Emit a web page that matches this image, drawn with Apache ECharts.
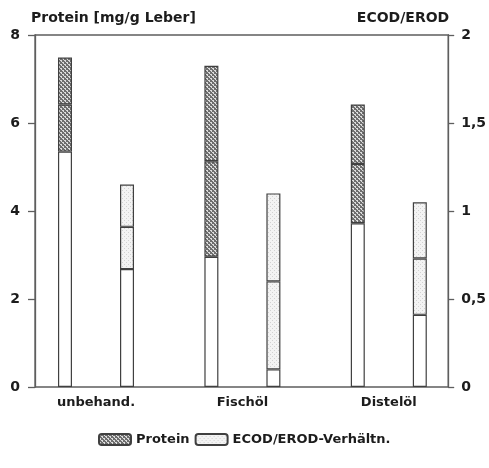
<!DOCTYPE html>
<html>
<head>
<meta charset="utf-8">
<script src="https://cdn.jsdelivr.net/npm/echarts@6/dist/echarts.min.js"></script>
<style>
  html, body { margin: 0; padding: 0; background: #fff; }
  #chart { width: 489px; height: 468px; }
</style>
</head>
<body>
<div id="chart"></div>
<script>
// Treatment groups
var categories = ['unbehand.', 'Fischöl', 'Distelöl'];
// Protein content (mg/g liver): mean and standard deviation
var proteinMean = [6.42, 5.13, 5.07];
var proteinSD = [1.07, 2.17, 1.35];
// ECOD/EROD ratio: mean and standard deviation
var ratioMean = [0.91, 0.60, 0.73];
var ratioSD = [0.24, 0.50, 0.32];
// Axis ticks
var leftTicks = [0, 2, 4, 6, 8];
var rightTicks = [0, 0.5, 1, 1.5, 2];

var FONT = 'DejaVu Sans';
var TEXT = '#1c1c1c';
var LINE = '#5e5e5e';

function makePattern(bg, dot, size, dots) {
  var c = document.createElement('canvas');
  c.width = size; c.height = size;
  var g = c.getContext('2d');
  g.fillStyle = bg; g.fillRect(0, 0, size, size);
  g.fillStyle = dot;
  dots.forEach(function (p) { g.fillRect(p[0], p[1], 1, 1); });
  return { image: c, repeat: 'repeat' };
}
var proteinFill = makePattern('#6e6e6e', '#dcdcdc', 4, [[0, 0], [1, 0], [2, 2], [3, 2], [1, 1], [3, 3]]);
var ratioFill = makePattern('#f3f3f3', '#d2d2d2', 4, [[0, 0], [2, 2]]);

// lower edge of the spread band = mean - SD
var proteinBase = proteinMean.map(function (m, i) { return m - proteinSD[i]; });
var ratioBase = ratioMean.map(function (m, i) { return m - ratioSD[i]; });

var barStyle = { borderColor: '#404040', borderWidth: 1.2 };

function seg(name, stack, yIdx, data, fill) {
  return {
    name: name, type: 'bar', stack: stack, xAxisIndex: 1, yAxisIndex: yIdx,
    data: data, barWidth: 14, barGap: '343%', silent: true,
    itemStyle: Object.assign({ color: fill }, barStyle)
  };
}

var chart = echarts.init(document.getElementById('chart'), null, { renderer: 'canvas' });
chart.setOption({
  animation: false,
  backgroundColor: '#fff',
  textStyle: { fontFamily: FONT },
  grid: [
    { left: 35, right: 39, top: 35, bottom: 81, show: true, borderColor: LINE, borderWidth: 1.3 },
    { left: 22.8, right: 27, top: 35, bottom: 81 }
  ],
  legend: {
    data: ['Protein', 'ECOD/EROD-Verhältn.'],
    left: 98, top: 433, padding: 0,
    itemWidth: 32, itemHeight: 11, itemGap: 5,
    selectedMode: false,
    textStyle: { fontFamily: FONT, fontWeight: 'bold', fontSize: 13, color: TEXT }
  },
  xAxis: [
    { gridIndex: 0, type: 'category', data: categories, show: false },
    {
      gridIndex: 1, type: 'category', data: categories,
      axisLine: { show: false }, axisTick: { show: false },
      axisLabel: { margin: 9, fontFamily: FONT, fontWeight: 'bold', fontSize: 13, color: TEXT }
    }
  ],
  yAxis: [
    {
      gridIndex: 0, type: 'value', position: 'left', min: leftTicks[0], max: leftTicks[leftTicks.length - 1], interval: 2,
      name: 'Protein [mg/g Leber]', nameLocation: 'end', nameGap: 10,
      nameTextStyle: { fontFamily: FONT, fontWeight: 'bold', fontSize: 14, color: TEXT, align: 'left', padding: [0, 0, 0, -4] },
      axisLine: { show: true, lineStyle: { color: LINE, width: 1.3 } },
      axisTick: { show: true, length: 7, lineStyle: { color: LINE, width: 1.3 } },
      axisLabel: { margin: 15, fontFamily: FONT, fontWeight: 'bold', fontSize: 14, color: TEXT },
      splitLine: { show: false }
    },
    {
      gridIndex: 0, type: 'value', position: 'right', min: rightTicks[0], max: rightTicks[rightTicks.length - 1], interval: 0.5,
      name: 'ECOD/EROD', nameLocation: 'end', nameGap: 10,
      nameTextStyle: { fontFamily: FONT, fontWeight: 'bold', fontSize: 14, color: TEXT, align: 'right', padding: [0, -1, 0, 0] },
      axisLine: { show: true, lineStyle: { color: LINE, width: 1.3 } },
      axisTick: { show: true, length: 6, lineStyle: { color: LINE, width: 1.3 } },
      axisLabel: {
        margin: 13, fontFamily: FONT, fontWeight: 'bold', fontSize: 14, color: TEXT,
        formatter: function (v) { return String(v).replace('.', ','); }
      },
      splitLine: { show: false }
    },
    { gridIndex: 1, type: 'value', min: 0, max: 8, interval: 2, show: false },
    { gridIndex: 1, type: 'value', min: 0, max: 2, interval: 0.5, show: false }
  ],
  series: [
    seg('Protein-Basis', 'protein', 2, proteinBase, '#ffffff'),
    seg('Protein', 'protein', 2, proteinSD, proteinFill),
    seg('Protein', 'protein', 2, proteinSD, proteinFill),
    seg('ECOD-Basis', 'ratio', 3, ratioBase, '#ffffff'),
    seg('ECOD/EROD-Verhältn.', 'ratio', 3, ratioSD, ratioFill),
    seg('ECOD/EROD-Verhältn.', 'ratio', 3, ratioSD, ratioFill)
  ]
});
</script>
</body>
</html>
